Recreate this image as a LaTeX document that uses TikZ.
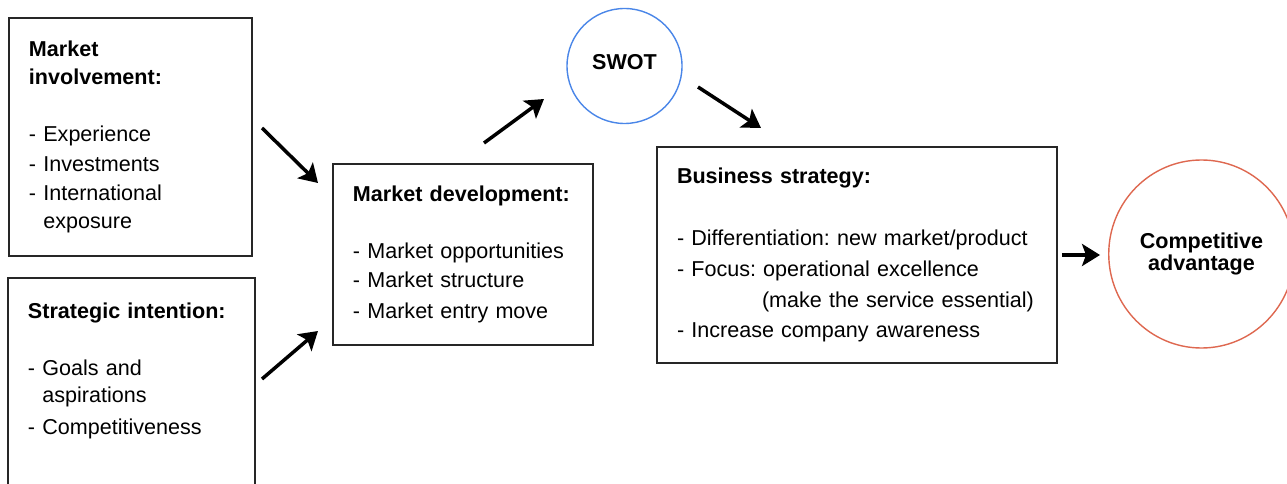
\documentclass[tikz,border=0pt]{standalone}
\usepackage{fontspec}
\setmainfont{Liberation Sans}
\usetikzlibrary{arrows.meta,shapes.geometric}
\definecolor{swotblue}{RGB}{74,134,232}
\definecolor{advred}{RGB}{222,104,80}
\frenchspacing

\begin{document}
\begin{tikzpicture}[x=0.03cm,y=-0.03cm]
	\tikzset{>={Stealth[length=0.54cm,width=0.66cm,inset=0.12cm]}}
	\tikzset{panel/.style={draw=black!85,line width=1.3pt,align=left,inner xsep=0.6cm,
			font=\fontsize{18.4}{24.5}\selectfont},
		flow/.style={->,line width=3pt}}
	\useasboundingbox (0,0) rectangle (1287,484);
	% left column
	\node[panel,text width=6.09cm,minimum width=7.29cm,minimum height=7.14cm] (inv) at (130.5,137)
		{\textbf{Market}\\\textbf{involvement:}\\[24pt]
		- Experience\\[1pt]- Investments\\- International\\\phantom{- }exposure};
	\node[panel,text width=6.21cm,minimum width=7.41cm,inner ysep=0.75cm,anchor=north] (int) at (131.5,277)
		{\textbf{Strategic intention:}\\[24pt]
		- Goals and\\[-1pt]\phantom{- }aspirations\\[3pt]- Competitiveness\\[0.6cm]\mbox{}};
	% middle and right
	\node[panel,text width=6.6cm,minimum width=7.8cm,minimum height=5.43cm] (dev) at (463,254.5)
		{\textbf{Market development:}\\[24pt]
		- Market opportunities\\- Market structure\\[2pt]- Market entry move};
	\node[draw=swotblue,line width=1.2pt,circle,minimum size=3.45cm,text depth=0.27cm,
		font=\fontsize{18.4}{20}\selectfont\bfseries] (swot) at (624.5,66) {SWOT};
	\node[panel,text width=10.8cm,minimum width=12cm,minimum height=6.48cm] (bs) at (857,255)
		{\textbf{Business strategy:}\\[28pt]
		- Differentiation: new market/product\\[2pt]
		- Focus: operational excellence\\[2pt]
		\hspace*{2.55cm}(make the service essential)\\[1pt]
		- Increase company awareness};
	\node[draw=advred,line width=1.2pt,ellipse,minimum width=5.01cm,minimum height=5.64cm,align=center,
		font=\fontsize{18.4}{19}\selectfont\bfseries] (adv) at (1201.5,254) {Competitive\\advantage};
	% arrows
	\coordinate (i1) at (262,128);
	\coordinate (i2) at (318,183);
	\coordinate (s1) at (262,379);
	\coordinate (s2) at (318,331);
	\coordinate (d1) at (484,143);
	\coordinate (d2) at (544,99);
	\coordinate (w1) at (698,87);
	\coordinate (w2) at (761,128);
	\draw[flow] (i1) -- (i2);
	\draw[flow] (s1) -- (s2);
	\draw[flow] (d1) -- (d2);
	\draw[flow] (w1) -- (w2);
	\draw[flow,shorten <=0.12cm,shorten >=0.24cm] (bs.east) -- (bs.east -| adv.west);
\end{tikzpicture}
\end{document}
